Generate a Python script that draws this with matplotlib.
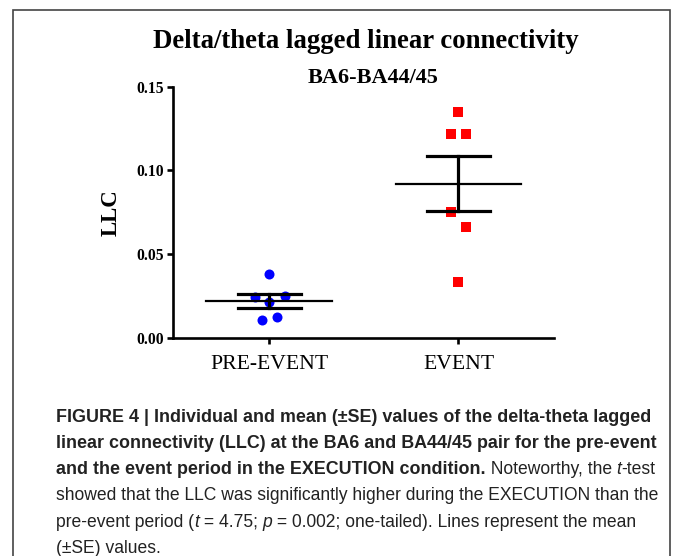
import numpy as np
import matplotlib
matplotlib.use('Agg')
import matplotlib.pyplot as plt
from matplotlib.patches import Rectangle

# Valores individuais de LLC.
grupos = ['PRE-EVENT', 'EVENT']
pre_evento = [0.0381, 0.0245, 0.0251, 0.0215, 0.0106, 0.0124]
evento = [0.1350, 0.1215, 0.1215, 0.0749, 0.0663, 0.0335]
# Deslocamento horizontal dos pontos (para não sobrepor).
desloc_pre = [0.0, -0.077, 0.085, 0.0, -0.037, 0.042]
desloc_evento = [0.0, -0.04, 0.04, -0.04, 0.04, 0.0]
yticks = [0.00, 0.05, 0.10, 0.15]

serif = ['Liberation Serif', 'DejaVu Serif']
sans = ['Liberation Sans', 'DejaVu Sans']

fig = plt.figure(figsize=(6.75, 5.56), dpi=100)
ax = fig.add_axes([0.2563, 0.3926, 0.5644, 0.4516])

# Moldura da figura.
fig.patches.append(Rectangle((13 / 675, -0.05), 657 / 675, 1.05 - 10 / 556,
                             transform=fig.transFigure, fill=False,
                             edgecolor='#444444', linewidth=1.2))

series = [(pre_evento, desloc_pre, 'blue', 'o', 52),
          (evento, desloc_evento, 'red', 's', 60)]
for i, (vals, desl, cor, marc, tam) in enumerate(series):
    vals = np.array(vals)
    x = i + np.array(desl)
    ax.scatter(x, vals, c=cor, marker=marc, s=tam, linewidths=0, zorder=2)
    media = vals.mean()
    se = vals.std(ddof=1) / np.sqrt(len(vals))
    ax.plot([i - 0.333, i + 0.333], [media, media], c='black', lw=1.6, zorder=3)
    ax.plot([i - 0.167, i + 0.167], [media + se, media + se], c='black', lw=2.3, zorder=3)
    ax.plot([i - 0.167, i + 0.167], [media - se, media - se], c='black', lw=2.3, zorder=3)
    ax.plot([i, i], [media - se, media + se], c='black', lw=2.3, zorder=3)

ax.set_xlim(-0.51, 1.505)
ax.set_ylim(0, 0.15)
ax.set_xticks([0, 1])
ax.set_xticklabels(grupos, family=serif, fontsize=15.6)
ax.set_yticks(yticks)
ax.set_yticklabels(['%.2f' % v for v in yticks], family=serif, fontsize=11.3,
                   fontweight='bold')
ax.spines['top'].set_visible(False)
ax.spines['right'].set_visible(False)
for s in ['left', 'bottom']:
    ax.spines[s].set_linewidth(1.9)
ax.tick_params(width=1.9, length=4.2)
ax.tick_params(axis='y', pad=2)
ax.tick_params(axis='x', pad=8)
ax.set_ylabel('LLC', family=serif, fontsize=16.5, fontweight='bold', labelpad=11)

fig.text(0.542, 1 - 42 / 556, 'Delta/theta lagged linear connectivity', family=serif,
         fontsize=19.3, fontweight='bold', ha='center', va='center')
fig.text(0.553, 1 - 78 / 556, 'BA6-BA44/45', family=serif, fontsize=16,
         fontweight='bold', ha='center', va='center')

# Legenda da figura (texto com partes em negrito e itálico).
legenda = [
    [('FIGURE 4 | Individual and mean (±SE) values of the delta-theta lagged', 'bold', 'normal')],
    [('linear connectivity (LLC) at the BA6 and BA44/45 pair for the pre-event', 'bold', 'normal')],
    [('and the event period in the EXECUTION condition.', 'bold', 'normal'),
     (' Noteworthy, the ', 'normal', 'normal'), ('t', 'normal', 'italic'),
     ('-test', 'normal', 'normal')],
    [('showed that the LLC was significantly higher during the EXECUTION than the', 'normal', 'normal')],
    [('pre-event period (', 'normal', 'normal'), ('t', 'normal', 'italic'),
     (' = 4.75; ', 'normal', 'normal'), ('p', 'normal', 'italic'),
     (' = 0.002; one-tailed). Lines represent the mean', 'normal', 'normal')],
    [('(±SE) values.', 'normal', 'normal')],
]
renderer = fig.canvas.get_renderer()


def tamanho_para_largura(texto, peso, largura):
    # Tamanho de fonte que dá a largura (px) da linha na figura original.
    t = fig.text(0, 0, texto, family=sans, fontsize=13.5, fontweight=peso)
    w = t.get_window_extent(renderer).width
    t.remove()
    return 13.5 * largura / w


tam_negrito = tamanho_para_largura(legenda[0][0][0], 'bold', 592)
tam_normal = tamanho_para_largura(legenda[3][0][0], 'normal', 604)

y = 417
for linha in legenda:
    x = 56
    for txt, peso, estilo in linha:
        tam = tam_negrito if peso == 'bold' else tam_normal
        t = fig.text(x / 675, 1 - y / 556, txt, family=sans, fontsize=tam,
                     fontweight=peso, style=estilo, color='#222222',
                     ha='left', va='center')
        x += t.get_window_extent(renderer).width
    y += 26.3

plt.savefig('out.png', dpi=100)
